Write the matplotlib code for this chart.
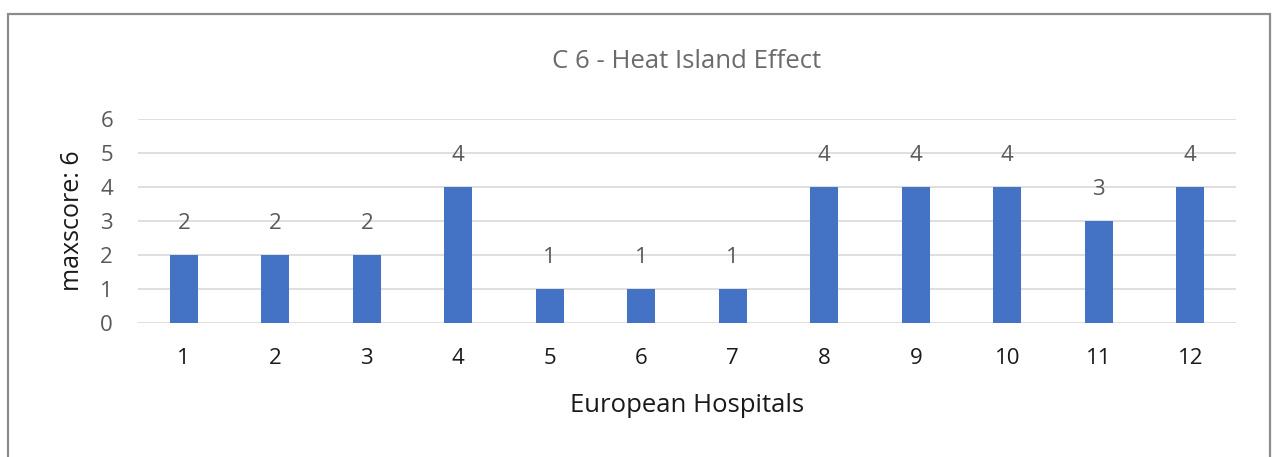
import matplotlib.pyplot as plt
from matplotlib.patches import Rectangle

# Scores per hospital
hospitals = [str(i) for i in range(1, 13)]
scores = [2, 2, 2, 4, 1, 1, 1, 4, 4, 4, 3, 4]
yticks = [0, 1, 2, 3, 4, 5, 6]

plt.rcParams['font.family'] = ['Open Sans', 'DejaVu Sans']

fig = plt.figure(figsize=(12.72, 4.57), dpi=100)
ax = fig.add_axes([0.1085, 0.2932, 0.8632, 0.4464])

x = range(len(hospitals))
bars = ax.bar(x, scores, width=0.31, color='#4472C4', zorder=3)

for xi, v in zip(x, scores):
    ax.annotate(str(v), (xi, v), xytext=(0, 23), textcoords='offset points',
                ha='center', va='center', fontsize=16, color='#595959')

ax.set_xlim(-0.5, len(hospitals) - 0.5)
ax.set_ylim(0, 6)
ax.set_yticks(yticks)
ax.set_xticks(list(x))
ax.set_xticklabels(hospitals)
ax.grid(axis='y', color='#d9d9d9', linewidth=1.2, zorder=0)
for s in ax.spines.values():
    s.set_visible(False)
ax.tick_params(axis='both', length=0)
ax.tick_params(axis='y', labelsize=16, labelcolor='#595959', pad=18)
ax.tick_params(axis='x', labelsize=16, labelcolor='#1a1a1a', pad=18)

fig.text(687 / 1272, 1 - 62 / 457, 'C 6 - Heat Island Effect', fontsize=18.5,
         color='#6b6b6b', ha='center', va='center')
ax.set_xlabel('European Hospitals', fontsize=18.5, color='#1a1a1a', labelpad=17)
ax.set_ylabel('maxscore: 6', fontsize=18, color='#1a1a1a', labelpad=11)

# outer chart frame, open at the bottom edge
fig.patches.append(Rectangle((8 / 1272, -0.05), 1262 / 1272, 1.05 - 14 / 457,
                             transform=fig.transFigure, fill=False,
                             edgecolor='#8c8c8c', linewidth=1.6))

fig.savefig('out.png', dpi=100)
